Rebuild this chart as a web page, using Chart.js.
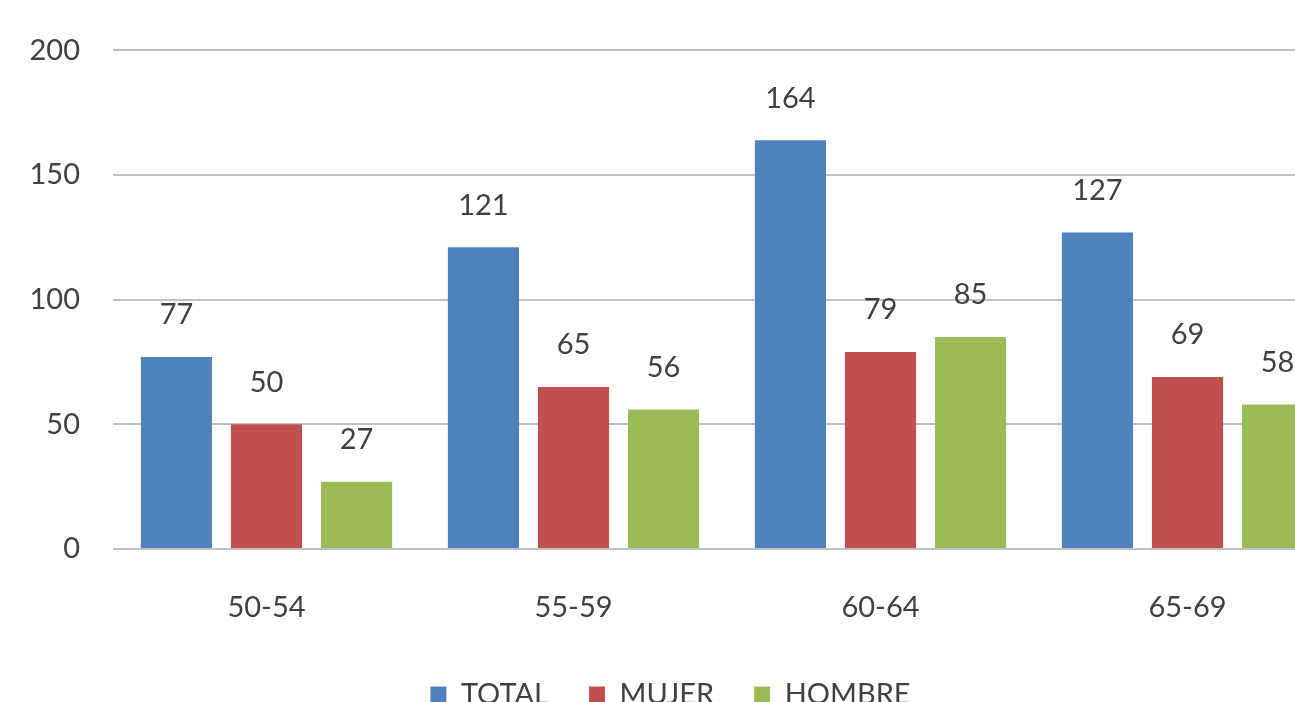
<!DOCTYPE html>
<html>
<head>
<meta charset="utf-8">
<script src="https://cdn.jsdelivr.net/npm/chart.js@4.4.1/dist/chart.umd.min.js"></script>
<style>
  html, body { margin: 0; padding: 0; background: #fff; overflow: hidden; }
  #caja { position: absolute; left: 0; top: 0; width: 1341px; height: 719px; }
</style>
</head>
<body>
<div id="caja"><canvas id="grafica"></canvas></div>
<script>
  // datos de la grafica
  const categorias = ["50-54", "55-59", "60-64", "65-69"];
  const etiquetas = ["TOTAL", "MUJER", "HOMBRE"];
  const valoresTotal = [77, 121, 164, 127];
  const valoresMujer = [50, 65, 79, 69];
  const valoresHombre = [27, 56, 85, 58];
  const ticksY = [0, 50, 100, 150, 200];
  const colores = ['#4F81BD', '#C0504D', '#9BBB59'];

  const fuente = "Lato, 'Open Sans', sans-serif";
  const gris = '#404040';

  // dibuja el valor encima de cada barra
  const etiquetasBarras = {
    id: 'etiquetasBarras',
    afterDatasetsDraw(chart) {
      const ctx = chart.ctx;
      ctx.save();
      ctx.font = "29px " + fuente;
      ctx.fillStyle = gris;
      ctx.textAlign = 'center';
      ctx.textBaseline = 'middle';
      chart.data.datasets.forEach(function (ds, i) {
        chart.getDatasetMeta(i).data.forEach(function (barra, j) {
          ctx.fillText(ds.data[j], barra.x, barra.y - 42);
        });
      });
      ctx.restore();
    }
  };

  const series = [valoresTotal, valoresMujer, valoresHombre];

  new Chart(document.getElementById('grafica'), {
    type: 'bar',
    data: {
      labels: categorias,
      datasets: series.map(function (v, i) {
        return {
          label: etiquetas[i],
          data: v,
          backgroundColor: colores[i],
          categoryPercentage: 0.88,
          barPercentage: 0.79
        };
      })
    },
    plugins: [etiquetasBarras],
    options: {
      responsive: true,
      maintainAspectRatio: false,
      animation: false,
      layout: { padding: { top: 48, left: 0, right: 0, bottom: 0 } },
      plugins: {
        tooltip: { enabled: false },
        legend: {
          position: 'bottom',
          labels: {
            boxWidth: 16,
            boxHeight: 16,
            padding: 40,
            color: gris,
            font: { family: fuente, size: 29 }
          }
        }
      },
      scales: {
        x: {
          grid: { display: false },
          border: { display: false },
          ticks: { color: gris, padding: 33, font: { family: fuente, size: 29 } },
          afterFit: function (s) { s.height = 91; }
        },
        y: {
          min: 0,
          max: 200,
          afterBuildTicks: function (s) { s.ticks = ticksY.map(function (v) { return { value: v }; }); },
          grid: { color: '#c0c0c0', lineWidth: 2, drawTicks: false },
          border: { display: false },
          ticks: { color: gris, padding: 33, font: { family: fuente, size: 29 } },
          afterFit: function (s) { s.width = 113; }
        }
      }
    }
  });
</script>
</body>
</html>
